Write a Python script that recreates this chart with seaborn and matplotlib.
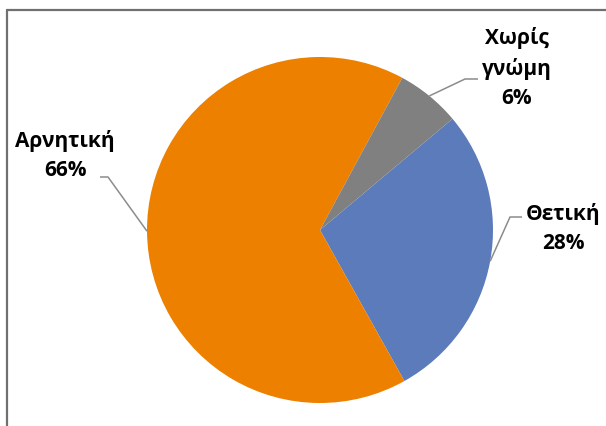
import numpy as np
import matplotlib
matplotlib.use("Agg")
import matplotlib.pyplot as plt
import seaborn as sns
from matplotlib.lines import Line2D

# data
labels = ["Θετική", "Αρνητική", "Χωρίς\nγνώμη"]
values = [28, 66, 6]
colors = ["#5B7BBA", "#EE8000", "#808080"]

sns.set_theme(style="white")
plt.rcParams['font.family'] = ['Open Sans', 'DejaVu Sans']

fig = plt.figure(figsize=(6.06, 4.27), dpi=100)
ax = fig.add_axes([0, 0, 1, 1])

cx, cy, r = 320, 427 - 231, 173
wedges, _ = ax.pie(values, colors=colors, startangle=40, counterclock=False,
                   center=(cx, cy), radius=r, frame=True,
                   wedgeprops=dict(linewidth=0))
ax.set_xlim(0, 606)
ax.set_ylim(0, 427)
ax.set_aspect("equal")
ax.axis("off")

# label text position, elbow, line end (in pixel-like data units)
label_pos = [(563, 427 - 229), (65, 427 - 156), (517, 427 - 68)]
elbows = [((510, 427 - 218), (522, 427 - 218)),
          ((108, 427 - 178), (100, 427 - 178)),
          ((465, 427 - 80), (478, 427 - 80))]

for w, lab, v, pos, (el, end) in zip(wedges, labels, values, label_pos, elbows):
    mid = np.deg2rad((w.theta1 + w.theta2) / 2)
    sx, sy = cx + r * np.cos(mid), cy + r * np.sin(mid)
    ax.plot([sx, el[0], end[0]], [sy, el[1], end[1]], color="#8C8C8C", lw=1.1,
            solid_capstyle="butt")
    ax.text(pos[0], pos[1], f"{lab}\n{v}%", ha="center", va="center",
            fontsize=15, fontweight="bold", color="black", linespacing=1.5)

# chart border (partially visible)
fig.add_artist(Line2D([6.5 / 606, 6.5 / 606], [0, 1 - 11 / 427], color="#707070",
                      lw=1.6, transform=fig.transFigure))
fig.add_artist(Line2D([6.5 / 606, 1], [1 - 11 / 427, 1 - 11 / 427], color="#707070",
                      lw=1.6, transform=fig.transFigure))

fig.savefig("out.png", dpi=100)
